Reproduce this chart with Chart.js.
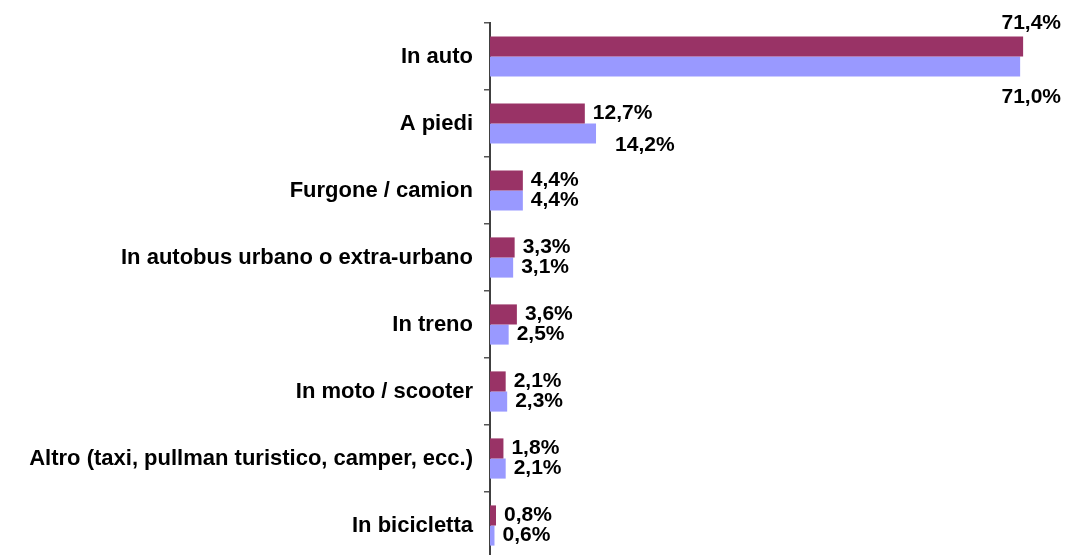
<!DOCTYPE html>
<html>
<head>
<meta charset="utf-8">
<script src="https://cdn.jsdelivr.net/npm/chart.js@4/dist/chart.umd.min.js"></script>
<style>
  html, body { margin: 0; padding: 0; background: #ffffff; overflow: hidden; }
  #wrap { width: 1067px; height: 560px; }
</style>
</head>
<body>
<div id="wrap"><canvas id="c" width="1067" height="560"></canvas></div>
<script>
const categories = [
  "In auto",
  "A piedi",
  "Furgone / camion",
  "In autobus urbano o extra-urbano",
  "In treno",
  "In moto / scooter",
  "Altro (taxi, pullman turistico, camper, ecc.)",
  "In bicicletta"
];
const seriesA = [71.4, 12.7, 4.4, 3.3, 3.6, 2.1, 1.8, 0.8];
const seriesB = [71.0, 14.2, 4.4, 3.1, 2.5, 2.3, 2.1, 0.6];
const seriesNames = ["Serie A", "Serie B"];

const FONT = '"Liberation Sans", Arial, Helvetica, sans-serif';

const valueLabels = {
  id: 'valueLabels',
  afterDatasetsDraw(chart, args, opts) {
    const ctx = chart.ctx;
    ctx.save();
    ctx.font = 'bold 21px ' + FONT;
    ctx.fillStyle = '#000000';
    ctx.textBaseline = 'middle';
    chart.data.datasets.forEach((ds, di) => {
      const meta = chart.getDatasetMeta(di);
      meta.data.forEach((bar, i) => {
        const v = ds.data[i];
        const txt = v.toFixed(1).replace('.', ',') + '%';
        const place = (opts.placement || {})[di + ',' + i];
        let x = bar.x + 8, y = bar.y;
        ctx.textAlign = 'left';
        if (place === 'above') {
          ctx.textAlign = 'right';
          x = chart.width - 6; y = bar.y - 23;
        } else if (place === 'below') {
          ctx.textAlign = 'right';
          x = chart.width - 6; y = bar.y + 31;
        } else if (place === 'shift') {
          x = bar.x + 19; y = bar.y + 12;
        }
        ctx.fillText(txt, x, y);
      });
    });
    ctx.restore();
  }
};

new Chart(document.getElementById('c'), {
  type: 'bar',
  data: {
    labels: categories,
    datasets: [
      { label: seriesNames[0], data: seriesA, backgroundColor: '#993366', borderWidth: 0,
        categoryPercentage: 0.6, barPercentage: 1.0 },
      { label: seriesNames[1], data: seriesB, backgroundColor: '#9999FF', borderWidth: 0,
        categoryPercentage: 0.6, barPercentage: 1.0 }
    ]
  },
  options: {
    indexAxis: 'y',
    responsive: false,
    animation: false,
    devicePixelRatio: 1,
    layout: { padding: { left: 0, right: 17, top: 23, bottom: 1 } },
    plugins: {
      legend: { display: false },
      tooltip: { enabled: false },
      valueLabels: { placement: { '0,0': 'above', '1,0': 'below', '1,1': 'shift' } }
    },
    scales: {
      x: { display: false, min: 0, max: 75 },
      y: {
        afterFit(scale) { scale.width = 490; scale.paddingTop = 0; scale.paddingBottom = 0; },
        grid: { display: true, drawOnChartArea: false, drawTicks: true, tickLength: 6,
                color: '#555555', lineWidth: 1.5, offset: true },
        border: { display: true, color: '#404040', width: 2 },
        ticks: { color: '#000000', padding: 11, autoSkip: false,
                 font: { family: FONT, size: 22, weight: 'bold' } }
      }
    }
  },
  plugins: [valueLabels]
});
</script>
</body>
</html>
